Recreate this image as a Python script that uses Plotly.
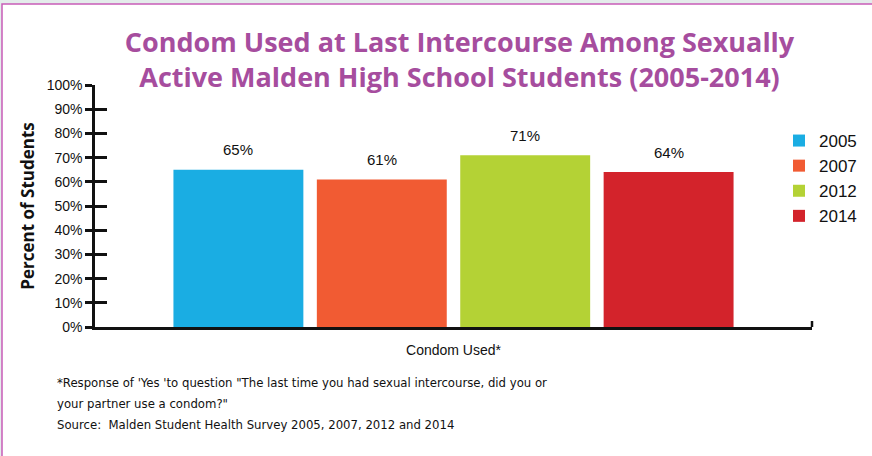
import plotly.graph_objects as go

years = ["2005", "2007", "2012", "2014"]
values = [65, 61, 71, 64]
colors = ["#1aade3", "#f15b33", "#b4d235", "#d3232b"]
y_ticks = [0, 10, 20, 30, 40, 50, 60, 70, 80, 90, 100]
y_tick_labels = [f"{v}%" for v in y_ticks]

title_text = ("Condom Used at Last Intercourse Among Sexually<br>"
              "Active Malden High School Students (2005-2014)")
foot_lines = [
    "*Response of 'Yes 'to question \"The last time you had sexual intercourse, did you or",
    "your partner use a condom?\"",
    "Source:  Malden Student Health Survey 2005, 2007, 2012 and 2014",
]

NARROW = "Liberation Sans Narrow, DejaVu Sans Condensed, Liberation Sans, sans-serif"
BASE = "Liberation Sans, Arial, sans-serif"

fig = go.Figure()
for i, (yr, v, c) in enumerate(zip(years, values, colors)):
    fig.add_trace(go.Bar(x=[yr], y=[v], name=yr, marker=dict(color=c, line=dict(width=0)),
                         width=0.906, showlegend=True))
    fig.add_annotation(x=i, y=v, xref="x", yref="y", text=f"{v}%", showarrow=False,
                       yanchor="middle", yshift=20,
                       font=dict(family=BASE, size=15, color="#111"))

W, H = 872, 456
L, R, T, B = 95, 60, 85, 129
pw, ph = W - L - R, H - T - B

def px_x(p):
    return (p - L) / pw

def px_y(p):
    return (H - B - p) / ph

# page frame
fig.add_shape(type="rect", xref="paper", yref="paper",
              x0=px_x(2), x1=px_x(890), y0=px_y(4), y1=px_y(480),
              fillcolor="white", line=dict(color="#c75cb8", width=1.5), layer="below")

# footnotes
for i, line in enumerate(foot_lines):
    fig.add_annotation(xref="paper", yref="paper", x=px_x(55), y=px_y(382 + 21 * i),
                       text=line, showarrow=False, xanchor="left", yanchor="middle",
                       font=dict(family=NARROW, size=13, color="#111"))

fig.update_layout(
    width=W, height=H,
    margin=dict(l=L, r=R, t=T, b=B, autoexpand=False),
    paper_bgcolor="#e4eceb",
    plot_bgcolor="rgba(0,0,0,0)",
    barmode="overlay",
    title=dict(text=title_text, x=459.5 / W, xanchor="center", y=1 - 52 / H, yanchor="middle",
               font=dict(family="Open Sans, sans-serif", size=27, color="#a64d9e", weight="bold")),
    xaxis=dict(type="category", categoryorder="array", categoryarray=years,
               range=[-1, 4], showticklabels=False, ticks="", showgrid=False,
               showline=True, linecolor="#111", linewidth=2.5, zeroline=False,
               title=dict(text="Condom Used*", standoff=17,
                          font=dict(family=BASE, size=14, color="#111"))),
    yaxis=dict(range=[0, 100], tickvals=y_ticks, ticktext=y_tick_labels,
               ticks="outside", ticklen=7, tickwidth=2.5, tickcolor="#111",
               showline=True, linecolor="#111", linewidth=2.5, showgrid=False, zeroline=False,
               tickfont=dict(family=BASE, size=14, color="#111"),
               title=dict(text="Percent of Students", standoff=8,
                          font=dict(family="Open Sans, sans-serif", size=17, color="#111", weight="bold"))),
    yaxis2=dict(range=[0, 100], tickvals=y_ticks[1:], overlaying="y", side="left",
                ticks="inside", ticklen=12, tickwidth=2.5, tickcolor="#111",
                showticklabels=False, showgrid=False, zeroline=False, showline=False),
    legend=dict(xref="container", yref="container", x=779 / W, xanchor="left",
                y=1 - 123 / H, yanchor="top",
                font=dict(family=BASE, size=17, color="#111"),
                bgcolor="rgba(0,0,0,0)", itemwidth=30, tracegroupgap=0),
)
# dummy trace to activate yaxis2
fig.add_trace(go.Scatter(x=[years[0]], y=[0], yaxis="y2", mode="markers",
                         marker=dict(opacity=0), showlegend=False, hoverinfo="skip"))

# right end tick of x-axis
fig.add_shape(type="line", xref="paper", yref="paper", x0=1, x1=1, y0=0, y1=px_y(321),
              line=dict(color="#111", width=2.5))

fig.write_html("out.html", config={"displayModeBar": False},
               post_script="document.body.style.margin='0';")
